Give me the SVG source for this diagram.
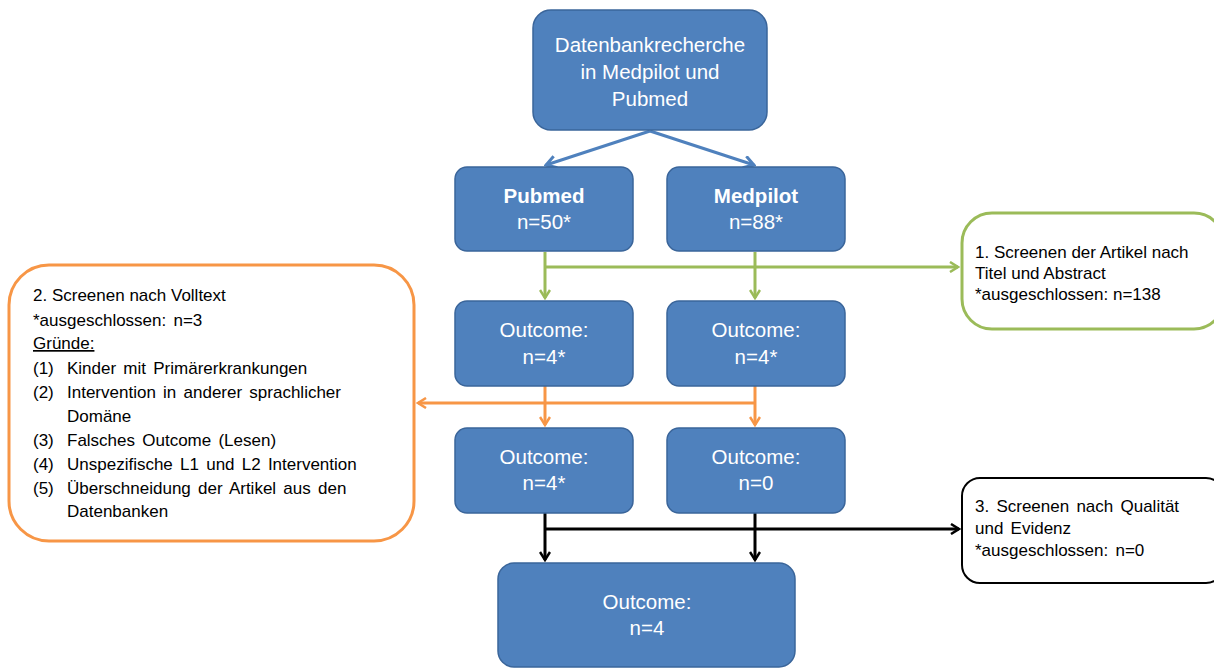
<svg xmlns="http://www.w3.org/2000/svg" width="1214" height="668" viewBox="0 0 1214 668">
<defs>
<style>
.box{fill:#4F81BD;stroke:#3A659A;stroke-width:1.5}
.wt{font-family:"Liberation Sans",Arial,sans-serif;font-size:20.5px;fill:#fff;text-anchor:middle}
.bt{font-family:"Liberation Sans",Arial,sans-serif;font-size:17px;fill:#000}
.ws{word-spacing:2.5px}
.cb{fill:none;stroke:#4F81BD;stroke-width:3}
.cg{fill:none;stroke:#9BBB59;stroke-width:3}
.co{fill:none;stroke:#F79646;stroke-width:3}
.ck{fill:none;stroke:#000;stroke-width:3}
</style>
<marker id="ab" viewBox="0 0 14 14" refX="12" refY="7" markerWidth="14" markerHeight="14" markerUnits="userSpaceOnUse" orient="auto"><path d="M2,1 L12,7 L2,13" fill="none" stroke="#4F81BD" stroke-width="3"/></marker>
<marker id="ag" viewBox="0 0 12 12" refX="10" refY="6" markerWidth="12" markerHeight="12" markerUnits="userSpaceOnUse" orient="auto"><path d="M2,1 L10,6 L2,11" fill="none" stroke="#9BBB59" stroke-width="2.5"/></marker>
<marker id="ao" viewBox="0 0 12 12" refX="10" refY="6" markerWidth="12" markerHeight="12" markerUnits="userSpaceOnUse" orient="auto"><path d="M2,1 L10,6 L2,11" fill="none" stroke="#F79646" stroke-width="2.5"/></marker>
<marker id="ak" viewBox="0 0 12 12" refX="10" refY="6" markerWidth="12" markerHeight="12" markerUnits="userSpaceOnUse" orient="auto"><path d="M2,1 L10,6 L2,11" fill="none" stroke="#000" stroke-width="2.5"/></marker>
</defs>
<rect width="1214" height="668" fill="#fff"/>
<g id="connectors">
<path class="cb" d="M650,131 L546,165" marker-end="url(#ab)"/>
<path class="cb" d="M650,131 L754,165" marker-end="url(#ab)"/>
<path class="cg" d="M545,252 L545,298" marker-end="url(#ag)"/>
<path class="cg" d="M755,252 L755,298" marker-end="url(#ag)"/>
<path class="cg" d="M545,267 L958,267" marker-end="url(#ag)"/>
<path class="co" d="M545,386 L545,425" marker-end="url(#ao)"/>
<path class="co" d="M755,386 L755,425" marker-end="url(#ao)"/>
<path class="co" d="M755,403 L418,403" marker-end="url(#ao)"/>
<path class="ck" d="M545,513 L545,560" marker-end="url(#ak)"/>
<path class="ck" d="M755,513 L755,560" marker-end="url(#ak)"/>
<path class="ck" d="M545,529 L959,529" marker-end="url(#ak)"/>
</g>
<g id="n-search">
<rect class="box" x="533" y="10" width="234" height="120" rx="18"/>
<text class="wt" x="650" y="52">Datenbankrecherche</text>
<text class="wt" x="650" y="79">in Medpilot und</text>
<text class="wt" x="650" y="106">Pubmed</text>
</g>
<g id="n-pubmed">
<rect class="box" x="455" y="167" width="178" height="84" rx="12"/>
<text class="wt" x="544" y="203" font-weight="bold">Pubmed</text>
<text class="wt" x="544" y="229">n=50*</text>
</g>
<g id="n-medpilot">
<rect class="box" x="667" y="167" width="178" height="84" rx="12"/>
<text class="wt" x="756" y="203" font-weight="bold">Medpilot</text>
<text class="wt" x="756" y="229">n=88*</text>
</g>
<g id="n-out1a">
<rect class="box" x="455" y="301" width="178" height="85" rx="12"/>
<text class="wt" x="544" y="337">Outcome:</text>
<text class="wt" x="544" y="364">n=4*</text>
</g>
<g id="n-out1b">
<rect class="box" x="667" y="301" width="178" height="85" rx="12"/>
<text class="wt" x="756" y="337">Outcome:</text>
<text class="wt" x="756" y="364">n=4*</text>
</g>
<g id="n-out2a">
<rect class="box" x="455" y="428" width="178" height="85" rx="12"/>
<text class="wt" x="544" y="464">Outcome:</text>
<text class="wt" x="544" y="490">n=4*</text>
</g>
<g id="n-out2b">
<rect class="box" x="667" y="428" width="178" height="85" rx="12"/>
<text class="wt" x="756" y="464">Outcome:</text>
<text class="wt" x="756" y="490">n=0</text>
</g>
<g id="n-final">
<rect class="box" x="498" y="563" width="297" height="104" rx="16"/>
<text class="wt" x="647" y="609">Outcome:</text>
<text class="wt" x="647" y="635">n=4</text>
</g>
<g id="n-screen1">
<rect x="962" y="213" width="262" height="116" rx="30" fill="#fff" stroke="#9BBB59" stroke-width="3"/>
<text class="bt" x="975" y="258">1. Screenen der Artikel nach</text>
<text class="bt" x="975" y="279">Titel und Abstract</text>
<text class="bt" x="975" y="300">*ausgeschlossen: n=138</text>
</g>
<g id="n-screen2">
<rect x="9" y="265" width="405" height="276" rx="40" fill="#fff" stroke="#F79646" stroke-width="3"/>
<text class="bt" x="33" y="301">2. Screenen nach Volltext</text>
<text class="bt ws" x="33" y="326">*ausgeschlossen: n=3</text>
<text class="bt" x="33" y="349" text-decoration="underline">Gründe:</text>
<text class="bt" x="33" y="374">(1)</text><text class="bt ws" x="67" y="374">Kinder mit Primärerkrankungen</text>
<text class="bt" x="33" y="398">(2)</text><text class="bt ws" x="67" y="398">Intervention in anderer sprachlicher</text>
<text class="bt" x="67" y="422">Domäne</text>
<text class="bt" x="33" y="446">(3)</text><text class="bt ws" x="67" y="446">Falsches Outcome (Lesen)</text>
<text class="bt" x="33" y="470">(4)</text><text class="bt ws" x="67" y="470">Unspezifische L1 und L2 Intervention</text>
<text class="bt" x="33" y="494">(5)</text><text class="bt ws" x="67" y="494">Überschneidung der Artikel aus den</text>
<text class="bt" x="67" y="517">Datenbanken</text>
</g>
<g id="n-screen3">
<rect x="962" y="478" width="262" height="105" rx="18" fill="#fff" stroke="#000" stroke-width="2"/>
<text class="bt ws" x="975" y="512">3. Screenen nach Qualität</text>
<text class="bt ws" x="975" y="534">und Evidenz</text>
<text class="bt ws" x="975" y="556">*ausgeschlossen: n=0</text>
</g>
</svg>
